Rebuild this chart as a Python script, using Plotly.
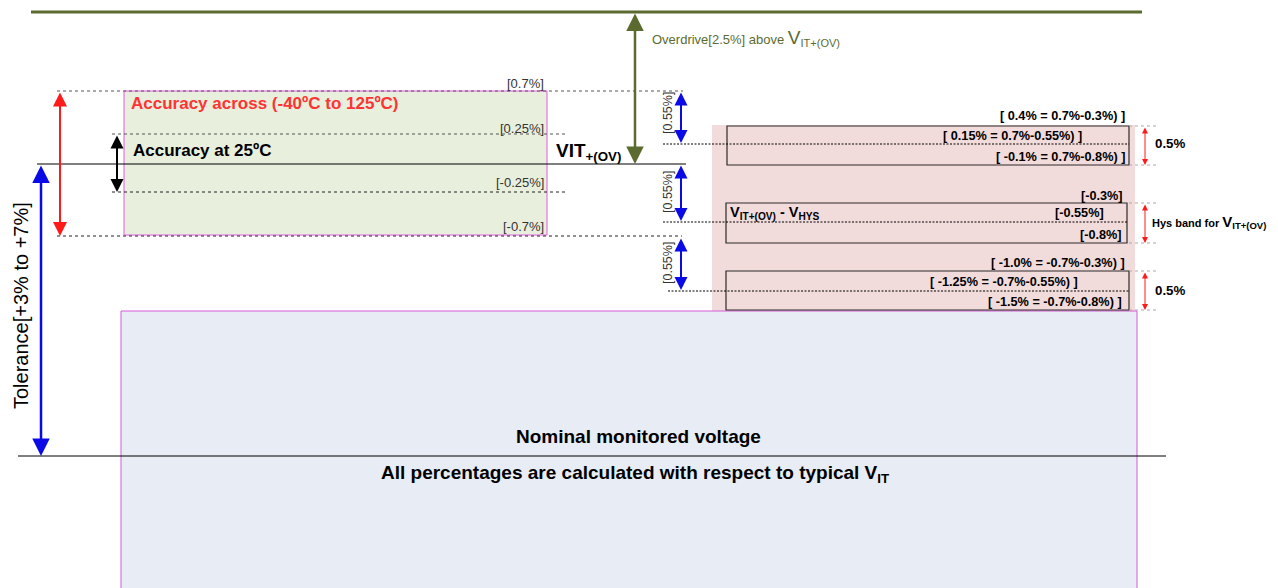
import plotly.graph_objects as go

# ---- texts / values -------------------------------------------------------
acc_labels = ["[0.7%]", "[0.25%]", "[-0.25%]", "[-0.7%]"]
gap_labels = ["[0.55%]", "[0.55%]", "[0.55%]"]
upper_band = ["[ 0.4% = 0.7%-0.3%) ]", "[ 0.15% = 0.7%-0.55%) ]", "[ -0.1% = 0.7%-0.8%) ]"]
hys_band = ["[-0.3%]", "[-0.55%]", "[-0.8%]"]
lower_band = ["[ -1.0% = -0.7%-0.3%) ]", "[ -1.25% = -0.7%-0.55%) ]", "[ -1.5% = -0.7%-0.8%) ]"]
band_widths = ["0.5%", None, "0.5%"]

# ---- geometry (diagram pixel space) ---------------------------------------
W, H = 1278, 588
OFF = 8            # page body margin, so the diagram lines up with the window
Y_OD = 12          # overdrive line
Y_VIT = 164        # VIT+(OV)
Y_NOM = 456        # nominal voltage
acc_y = [91, 134, 192, 236]          # accuracy levels
acc_label_y = [83, 128, 182, 226]
band_rows = [(126, 165), (203, 243), (271, 310)]
band_mid = [144, 222, 291]

OLIVE = "#5b6b2f"
FONT = "Liberation Sans, Arial, sans-serif"

fig = go.Figure()
shapes = []
ann = []


def line(x0, y0, x1, y1, color="black", width=1, dash=None):
    shapes.append(dict(type="line", x0=x0, y0=y0, x1=x1, y1=y1,
                       line=dict(color=color, width=width, dash=dash)))


def rect(x0, y0, x1, y1, fill=None, color=None, width=1):
    shapes.append(dict(type="rect", x0=x0, y0=y0, x1=x1, y1=y1,
                       fillcolor=fill or "rgba(0,0,0,0)",
                       line=dict(color=color or "rgba(0,0,0,0)", width=width if color else 0),
                       layer="below"))


def darrow(x, y0, y1, color, width=2, size=1.0, head=2):
    ann.append(dict(x=x, y=y1, ax=x, ay=y0, xref="x", yref="y", axref="x", ayref="y",
                    text="", showarrow=True, arrowside="end+start", arrowhead=head,
                    startarrowhead=head, arrowsize=size, startarrowsize=size,
                    arrowwidth=width, arrowcolor=color, standoff=0, startstandoff=0))


def text(x, y, s, size=11, color="black", anchor="left", angle=0):
    ann.append(dict(x=x, y=y, xref="x", yref="y", text=s, showarrow=False,
                    xanchor=anchor, yanchor="middle", textangle=angle,
                    font=dict(family=FONT, size=size, color=color)))


# background boxes
rect(712, 125, 1135, 311, fill="#f2dcdb")
rect(124, 91, 547, 235, fill="#e9efdd", color="#e05ce0")
rect(121, 311, 1137, 600, fill="#e8ecf5", color="#d65ad6")
for (t, b), x0, x1 in zip(band_rows, [727, 726, 726], [1129, 1127, 1129]):
    rect(x0, t, x1, b, color="#2a2a2a", width=1.2)

# main lines
line(31, Y_OD, 1142, Y_OD, color=OLIVE, width=3)
line(37, Y_VIT, 686, Y_VIT)
line(18, Y_NOM, 1166, Y_NOM)

# accuracy dotted levels
line(57, acc_y[0], 683, acc_y[0], color="#555", dash="dot")
line(112, acc_y[1], 567, acc_y[1], color="#555", dash="dot")
line(112, acc_y[2], 567, acc_y[2], color="#222", dash="dot")
line(57, acc_y[3], 682, acc_y[3], color="#222", dash="dot")

# band mid dashed lines
for ym, x0, x1 in zip(band_mid, [663, 663, 668], [1129, 1127, 1129]):
    line(x0, ym, x1, ym, color="black", dash="2px,1.5px")
for t, b in band_rows:
    line(1129, t, 1156, t, color="#aaa", dash="dot")
    line(1129, b, 1156, b, color="#aaa", dash="dot")

# arrows
darrow(635, Y_OD, Y_VIT, OLIVE, width=2.5, size=1.4)
darrow(60, acc_y[0], acc_y[3], "#ff1a1a", width=2, size=1.4)
darrow(117, acc_y[1], acc_y[2], "black", width=2, size=1.3)
darrow(41, Y_VIT, Y_NOM, "#0a0ae6", width=2.5, size=1.4)
for y0, y1 in [(91, 143), (164, 221), (237, 290)]:
    darrow(681, y0, y1, "#0a0ae6", width=2, size=1.3)
for t, b in band_rows:
    darrow(1145, t, b, "#ff1a1a", width=1, size=1.2)

# texts
text(650, 38, "Overdrive[2.5%] above <span style='font-size:19px'>V</span>"
     "<sub><span style='font-size:11px'>IT+(OV)</span></sub>", size=13, color=OLIVE)
text(129, 103, "<b>Accuracy across (-40ºC to 125ºC)</b>", size=17, color="#ff3333")
text(131, 150, "<b>Accuracy at 25ºC</b>", size=17)
for s, y in zip(acc_labels, acc_label_y):
    text(546, y, s, size=13, color="#333", anchor="right")
text(554, 152, "<b>VIT<sub>+(OV)</sub></b>", size=19)
text(21, 306, "Tolerance[+3% to +7%]", size=20, anchor="center", angle=-90)
for s, y in zip(gap_labels, [113, 192, 263]):
    text(668, y, s, size=12.5, color="#333", anchor="center", angle=-90)

for s, (x, y) in zip(upper_band, [(1127, 116), (1084, 136), (1127, 157)]):
    text(x, y, "<b>%s</b>" % s, size=12.7, anchor="right")
for s, (x, y) in zip(hys_band, [(1125, 196), (1106, 213), (1124, 235)]):
    text(x, y, "<b>%s</b>" % s, size=12.7, anchor="right")
for s, (x, y) in zip(lower_band, [(1127, 263), (1080, 282), (1124, 302)]):
    text(x, y, "<b>%s</b>" % s, size=12.7, anchor="right")
text(728, 213, "<b>V<sub>IT+(OV)</sub> - V<sub>HYS</sub></b>", size=14.5)
for s, y in zip(band_widths, [143, 222, 290]):
    if s:
        text(1153, y, "<b>%s</b>" % s, size=13.3)
text(1150, 222, "<b>Hys band for <span style='font-size:15px'>V</span>"
     "<sub><span style='font-size:9.5px'>IT+(OV)</span></sub></b>", size=11)

text(638, 436, "<b>Nominal monitored voltage</b>", size=19, anchor="center")
text(635, 474, "<b>All percentages are calculated with respect to typical V<sub>IT</sub></b>",
     size=19, anchor="center")

fig.update_layout(
    width=W, height=H,
    margin=dict(l=0, r=0, t=0, b=0),
    plot_bgcolor="white", paper_bgcolor="white",
    shapes=shapes, annotations=ann,
    showlegend=False,
    xaxis=dict(range=[OFF, W + OFF], visible=False, fixedrange=True),
    yaxis=dict(range=[H + OFF, OFF], visible=False, fixedrange=True),
)

fig.write_html("out.html")
